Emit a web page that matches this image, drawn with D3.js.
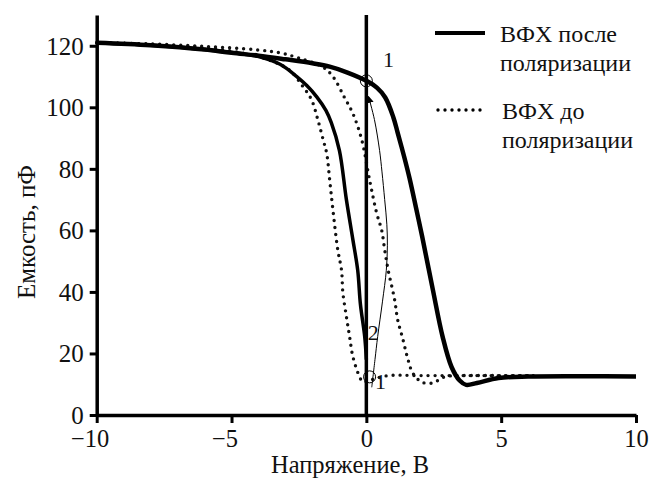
<!DOCTYPE html>
<html>
<head>
<meta charset="utf-8">
<script src="https://cdn.jsdelivr.net/npm/d3@7"></script>
<style>
  body { margin: 0; background: #fff; }
  svg, svg text { font-family: "Liberation Serif", "Tinos", "Times New Roman", "DejaVu Serif", serif !important; }
</style>
</head>
<body>
<div id="chart"></div>
<script>
// C-V curves: voltage (V), capacitance (pF)
const afterForward = [
  [-10, 121], [-8, 120.2], [-6, 118.8], [-5, 117.7], [-4, 116.8], [-3, 115.6], [-2, 114.3],
  [-1.36, 113.2], [-0.7, 111.3], [0, 108.6], [0.4, 106.3], [0.7, 103.2], [1.0, 96.8],
  [1.16, 91.8], [1.4, 84], [1.6, 77], [1.85, 67], [2.07, 58], [2.46, 41], [2.83, 25.4],
  [3.16, 15.6], [3.46, 11.2], [3.7, 9.8], [4.1, 10.4], [4.9, 12], [6, 12.5], [8, 12.6], [10, 12.5]
];
const afterBackward = [
  [-10, 121], [-8, 120.2], [-6, 118.8], [-4, 116.5], [-3.2, 114], [-2.58, 110], [-2.2, 107],
  [-1.84, 103.4], [-1.5, 99], [-1.3, 95], [-1.0, 86], [-0.74, 70], [-0.5, 57], [-0.32, 47],
  [-0.22, 36], [-0.06, 25.4], [0, 18]
];
const beforeBackward = [
  [-10, 121], [-8, 120.4], [-6, 119.3], [-4.5, 117.5], [-3.5, 115], [-2.84, 112], [-2.35, 106.7],
  [-2.03, 102.4], [-1.8, 96], [-1.6, 89.4], [-1.47, 85], [-1.36, 76.4], [-1.24, 66.7],
  [-1.06, 53.7], [-0.92, 47], [-0.87, 39.7], [-0.74, 32], [-0.62, 25.4], [-0.5, 19],
  [-0.25, 12.4], [-0.13, 10.8], [0.2, 11.5], [0.8, 12.8], [2, 12.8], [4, 12.8], [6.2, 12.8]
];
const beforeForward = [
  [-10, 121], [-8, 120.6], [-6, 119.8], [-4.1, 118.7], [-3.2, 117.7], [-2.5, 116], [-1.6, 113],
  [-1.24, 110], [-0.8, 103], [-0.5, 98], [-0.17, 89.4], [0.12, 76.4], [0.38, 65.7], [0.57, 60],
  [0.68, 53.7], [0.8, 47.5], [1.05, 37.4], [1.16, 31], [1.35, 24.8], [1.53, 18.5], [1.72, 13.7],
  [2.05, 10.7], [2.46, 10.4], [2.9, 12.4], [3.5, 12.8], [5, 12.8], [6.2, 12.8]
];
// thin arrow from point 1 (bottom) to point 1 (top)
const arrowPath = [
  [0.2, 9], [0.32, 18], [0.42, 25.5], [0.6, 37], [0.74, 47], [0.78, 55], [0.76, 62],
  [0.68, 70], [0.58, 79], [0.49, 86], [0.3, 96], [0.08, 103.5]
];
const markPoints = [[0, 108.6], [0.12, 12.4]];
const pointLabels = [
  { v: 0.62, c: 113, t: "1" }, { v: 0.05, c: 24.5, t: "2" }, { v: 0.32, c: 8.5, t: "1" }
];
const xTicks = [-10, -5, 0, 5, 10];
const yTicks = [0, 20, 40, 60, 80, 100, 120];
const legendItems = [
  { lines: ["ВФХ после", "поляризации"], dotted: false },
  { lines: ["ВФХ до", "поляризации"], dotted: true }
];

const W = 652, H = 478;
const FONT = '"Liberation Serif", "Tinos", "Times New Roman", "DejaVu Serif", serif';
const svg = d3.select("#chart").append("svg").attr("width", W).attr("height", H);

const x = d3.scaleLinear().domain([-10, 10]).range([96.7, 636]);
const y = d3.scaleLinear().domain([0, 130]).range([415, 15]);

const defs = svg.append("defs");
defs.append("marker")
  .attr("id", "arr")
  .attr("viewBox", "0 0 10 10")
  .attr("refX", 9).attr("refY", 5)
  .attr("markerWidth", 7).attr("markerHeight", 10)
  .attr("markerUnits", "userSpaceOnUse")
  .attr("orient", "auto")
  .append("path").attr("d", "M0,0 L10,5 L0,10 Z").attr("fill", "#000");

const line = d3.line().x(d => x(d[0])).y(d => y(d[1])).curve(d3.curveCatmullRom.alpha(0.5));

// dotted curves (before polarization)
[beforeBackward, beforeForward].forEach(data => {
  svg.append("path")
    .datum(data)
    .attr("d", line)
    .attr("fill", "none")
    .attr("stroke", "#111")
    .attr("stroke-width", 3.4)
    .attr("stroke-linecap", "round")
    .attr("stroke-dasharray", "0 7");
});

// solid curves (after polarization)
svg.append("path").datum(afterBackward).attr("d", line)
  .attr("fill", "none").attr("stroke", "#000").attr("stroke-width", 3.5);
svg.append("path").datum(afterForward).attr("d", line)
  .attr("fill", "none").attr("stroke", "#000").attr("stroke-width", 4.5);

// vertical line at V = 0
svg.append("line")
  .attr("x1", x(0)).attr("x2", x(0))
  .attr("y1", y(0)).attr("y2", y(130))
  .attr("stroke", "#000").attr("stroke-width", 3.5);

// thin arrow
svg.append("path").datum(arrowPath).attr("d", line)
  .attr("fill", "none").attr("stroke", "#000").attr("stroke-width", 1)
  .attr("marker-end", "url(#arr)");

// circles marking the points
svg.selectAll(".mark").data(markPoints).enter().append("circle")
  .attr("cx", d => x(d[0])).attr("cy", d => y(d[1])).attr("r", 6)
  .attr("fill", "none").attr("stroke", "#000").attr("stroke-width", 1);

svg.selectAll(".plabel").data(pointLabels).enter().append("text")
  .attr("x", d => x(d.v)).attr("y", d => y(d.c))
  .attr("font-family", FONT)
  .attr("font-size", 22).attr("fill", "#111")
  .text(d => d.t);

// axes
const fmt = d => d < 0 ? "\u2212" + Math.abs(d) : String(d);
const xAxis = svg.append("g")
  .attr("transform", `translate(0,${y(0)})`)
  .call(d3.axisBottom(x).tickValues(xTicks).tickSize(8).tickSizeOuter(0).tickFormat(fmt))
  .attr("font-family", FONT);
xAxis.select(".domain").attr("stroke-width", 3.5);
xAxis.selectAll(".tick line").attr("stroke-width", 3);
xAxis.selectAll(".tick text")
  .attr("font-size", 24.5).attr("fill", "#111")
  .attr("y", 32).attr("dy", 0)
  .attr("dx", d => d < 0 ? -7 : 0);

const yAxis = svg.append("g")
  .attr("transform", `translate(${x(-10)},0)`)
  .call(d3.axisLeft(y).tickValues(yTicks).tickSize(7).tickSizeOuter(0))
  .attr("font-family", FONT);
yAxis.select(".domain").attr("stroke-width", 3.5);
yAxis.selectAll(".tick line").attr("stroke-width", 3);
yAxis.selectAll(".tick text")
  .attr("font-size", 25).attr("fill", "#111")
  .attr("x", -13).attr("dy", "0.34em");

// axis titles
svg.append("text")
  .attr("x", 350).attr("y", 472.5)
  .attr("font-family", FONT)
  .attr("text-anchor", "middle").attr("font-size", 24.5).attr("fill", "#111")
  .text("Напряжение, В");
svg.append("text")
  .attr("transform", "translate(35,232) rotate(-90)")
  .attr("font-family", FONT)
  .attr("text-anchor", "middle").attr("font-size", 25).attr("fill", "#111")
  .text("Емкость, пФ");

// legend
const legendTop = [33, 110];
legendItems.forEach((item, i) => {
  const ly = legendTop[i];
  svg.append("line")
    .attr("x1", item.dotted ? 438 : 435).attr("x2", 485)
    .attr("y1", ly).attr("y2", ly)
    .attr("stroke", "#000")
    .attr("stroke-width", item.dotted ? 3.4 : 4)
    .attr("stroke-linecap", item.dotted ? "round" : "butt")
    .attr("stroke-dasharray", item.dotted ? "0 7" : null);
  item.lines.forEach((t, j) => {
    svg.append("text")
      .attr("x", item.dotted ? 502 : 500)
      .attr("y", ly + 9 + j * 29)
      .attr("font-family", FONT)
      .attr("font-size", 24).attr("fill", "#111")
      .text(t);
  });
});
</script>
</body>
</html>
